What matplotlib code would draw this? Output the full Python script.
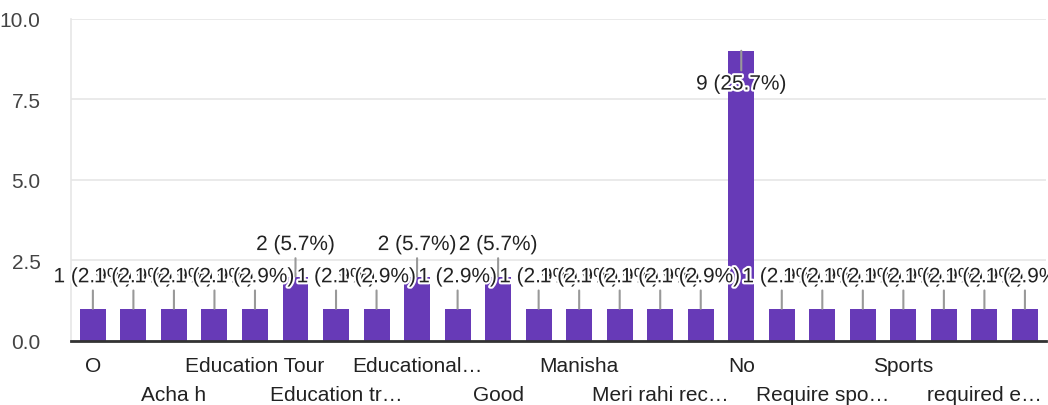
import matplotlib
matplotlib.use("Agg")
import matplotlib.pyplot as plt
import matplotlib.patheffects as pe
import numpy as np

plt.rcParams['font.family'] = ['Liberation Sans', 'DejaVu Sans']

# answers (sorted like the form summary); only every other one gets a tick label
answers = ["O", "Accha", "Acha h", "Achha", "Education Tour", "Education tour",
           "Education trip", "Education trip for students", "Educational trip",
           "Games", "Good", "Library", "Manisha", "Meri rahi", "Meri rahi recommendation",
           "Nice", "No", "Nothing", "Require sports", "Sport", "Sports", "Tour",
           "required education", "yes"]
counts = [1, 1, 1, 1, 1, 2, 1, 1, 2, 1, 2, 1, 1, 1, 1, 1, 9, 1, 1, 1, 1, 1, 1, 1]
shown_labels = ["O", "Acha h", "Education Tour", "Education tr\u2026", "Educational\u2026",
                "Good", "Manisha", "Meri rahi rec\u2026", "No", "Require spo\u2026",
                "Sports", "required e\u2026"]
yticks = [0, 2.5, 5.0, 7.5, 10.0]

total = sum(counts)
purple = "#673ab7"
text_col = "#222222"
x = np.arange(len(counts))

fig = plt.figure(figsize=(10.48, 4.06), dpi=100)
ax = fig.add_axes([71 / 1048, (406 - 342) / 406, 975 / 1048, 322.5 / 406])

ax.bar(x, counts, width=0.64, color=purple, zorder=2)

ax.set_xlim(-0.54, len(counts) - 1 + 0.52)
ax.set_ylim(0, 10)
ax.set_yticks(yticks)
ax.set_yticklabels(["%.1f" % t for t in yticks], fontsize=15, color="#444444")
ax.yaxis.grid(True, color="#e6e6e6", linewidth=1.2, zorder=0)
ax.tick_params(axis="y", length=0, pad=22)
ax.tick_params(axis="x", length=0, labelbottom=False)
for s in ["top", "right"]:
    ax.spines[s].set_visible(False)
ax.spines["left"].set_color("#e6e6e6")
ax.spines["left"].set_linewidth(1.2)
ax.spines["bottom"].set_color("#333333")
ax.spines["bottom"].set_linewidth(2)
ax.spines["bottom"].set_zorder(3)

# value labels with stems, drawn left to right so later ones cover earlier ones
top = max(counts)
for i, c in enumerate(counts):
    off = -24 if c == top else 23
    ax.annotate("%d (%.1f%%)" % (c, 100.0 * c / total), xy=(i, c),
                xytext=(0, off), textcoords="offset points",
                ha="center", va="center", fontsize=15, color=text_col, zorder=4,
                path_effects=[pe.withStroke(linewidth=3, foreground="white")],
                arrowprops=dict(arrowstyle="-", color="#999999", lw=1.5,
                                shrinkA=1, shrinkB=0))

# category labels in two staggered rows
for k, lab in enumerate(shown_labels):
    i = 2 * k
    row = k % 2
    ax.annotate(lab, xy=(i, 0), xycoords=("data", "axes fraction"),
                xytext=(0, -18 - 20.5 * row), textcoords="offset points",
                ha="center", va="center", fontsize=15, color=text_col)

fig.savefig("out.png", dpi=100)
